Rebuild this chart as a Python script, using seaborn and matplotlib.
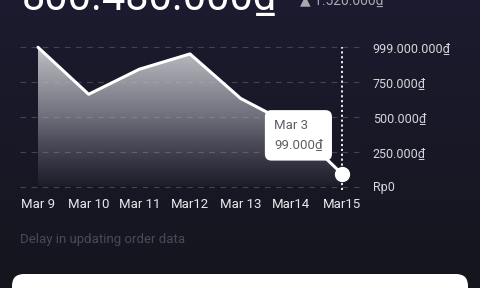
import numpy as np
import pandas as pd
import matplotlib
matplotlib.use("Agg")
import matplotlib.pyplot as plt
from matplotlib.patches import FancyBboxPatch
from matplotlib.colors import LinearSegmentedColormap
import seaborn as sns

# ---- data ----
dates = ["Mar 9", "Mar 10", "Mar 11", "Mar12", "Mar 13", "Mar14", "Mar15"]
values = [4.0, 2.65, 3.37, 3.81, 2.53, 1.77, 0.36]   # position on the (evenly spaced) value scale
ytick_labels = ["Rp0", "250.000₫", "500.000₫", "750.000₫", "999.000.000₫"]
headline = "800.480.000₫"
subline = "▲ 1.520.000₫"
tooltip_date = "Mar 3"
tooltip_value = "99.000₫"
note = "Delay in updating order data"

sns.set_theme(style="dark")
plt.rcParams["font.family"] = ["Roboto", "DejaVu Sans"]

BG = "#19192a"
W, H = 480, 288
fig = plt.figure(figsize=(4.8, 2.88), dpi=100, facecolor=BG)

# background subtle gradient
bgax = fig.add_axes([0, 0, 1, 1], zorder=-10)
grad = np.linspace(0, 1, 256).reshape(-1, 1)
bgcmap = LinearSegmentedColormap.from_list("bg", ["#1c1b2f", "#15151e"])
bgax.imshow(grad, aspect="auto", cmap=bgcmap, extent=[0, 1, 0, 1], origin="upper")
bgax.set_axis_off()

# plot axes: left 20px, right 363px, top 44px, bottom 190px
l, r, t, b = 20, 363, 44, 190
ax = fig.add_axes([l / W, 1 - b / H, (r - l) / W, (b - t) / H])
ax.set_facecolor("none")

df = pd.DataFrame({"x": np.arange(len(dates)), "y": values})
step = (342 - 38) / 6.0
ystep = (186.5 - 47.3) / 4.0
xlim = (-(38 - l) / step, 6 + (r - 342) / step)
ylim = (-(b - 186.5) / ystep, 4 + (47.3 - t) / ystep)

# gradient fill under the line
poly = ax.fill_between(df["x"], df["y"], 0, color="none", lw=0)
fillcmap = LinearSegmentedColormap.from_list(
    "f", [(0.76, 0.76, 0.78, 1.0), (0.72, 0.72, 0.76, 0.55), (0.6, 0.6, 0.65, 0.05)])
img = ax.imshow(np.linspace(0, 1, 256).reshape(-1, 1), aspect="auto", cmap=fillcmap,
                extent=[0, 6, 0, 4], origin="upper", zorder=1)
img.set_clip_path(poly.get_paths()[0], transform=ax.transData)
ax.set_xlim(*xlim)
ax.set_ylim(*ylim)

sns.lineplot(data=df, x="x", y="y", ax=ax, color="white", lw=2.2, zorder=3)

# grid and ticks
ax.set_yticks(range(5))
ax.set_yticklabels(ytick_labels)
ax.set_xticks(df["x"])
ax.set_xticklabels(dates)
ax.grid(axis="y", color="#44444f", linestyle=(0, (5, 5)), lw=0.8)
ax.grid(axis="x", visible=False)
ax.yaxis.tick_right()
ax.tick_params(axis="y", length=0, pad=7, labelsize=9, labelcolor="#d6d6da")
ax.tick_params(axis="x", length=0, pad=6, labelsize=9.5, labelcolor="#e8e8ec")
for lab in ax.get_yticklabels():
    lab.set_horizontalalignment("left")
for s in ax.spines.values():
    s.set_visible(False)
ax.set_xlabel("")
ax.set_ylabel("")
ax.set_xlim(*xlim)
ax.set_ylim(*ylim)

# vertical dotted cursor line and marker
ax.plot([6, 6], [ylim[0], 4.0], color="white", lw=1.3, linestyle=(0, (1.2, 1.5)), zorder=4)
ax.plot([6], [values[-1]], marker="o", ms=10, color="white", zorder=6)

# tooltip
ax.text(4.66, 1.47, f"{tooltip_date}\n{tooltip_value}", ha="left", va="center",
        fontsize=9.5, color="#5f5f68", linespacing=1.6, zorder=7,
        bbox=dict(boxstyle="round,pad=0.7,rounding_size=0.5", fc="white", ec="none"))

# headline (cut off at top, as in the reference)
fig.text(22 / W, 1 - 10 / H, headline, fontsize=30, color="white", ha="left", va="baseline")
fig.text(300 / W, 1 - 5 / H, subline, fontsize=10, color="#a8a8b0", ha="left", va="baseline")

# note
fig.text(20 / W, 1 - 240 / H, note, fontsize=9.5, color="#4a4a57", ha="left", va="center")

# bottom white card
card = FancyBboxPatch((12 / W, -30 / H), (468 - 12) / W, (14 + 30) / H,
                      boxstyle="round,pad=0,rounding_size=0.025", transform=fig.transFigure,
                      fc="white", ec="none", mutation_aspect=W / H)
fig.patches.append(card)

fig.savefig("out.png", dpi=100, facecolor=BG)
